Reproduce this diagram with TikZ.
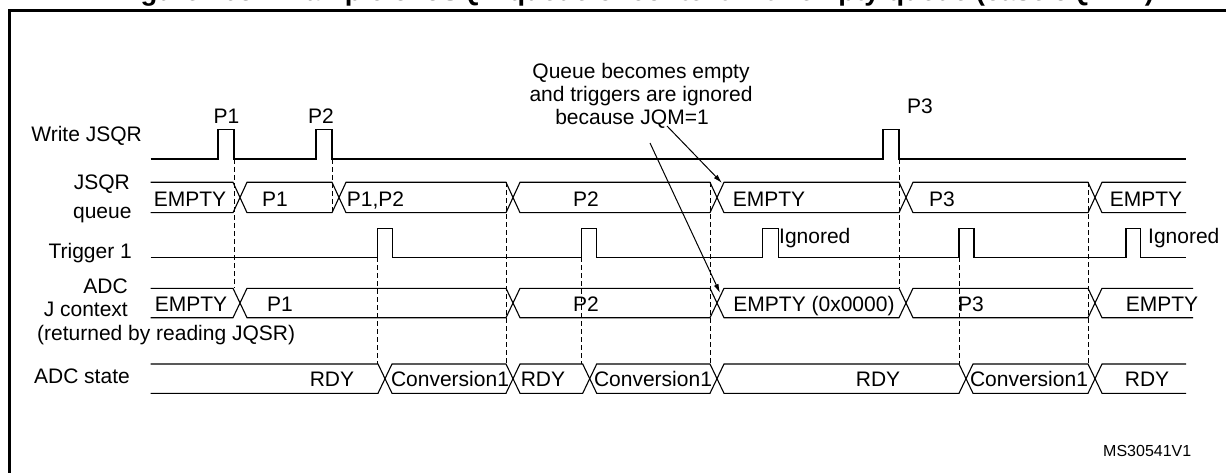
\documentclass[tikz,border=0pt]{standalone}
\usepackage{fontspec}
\setmainfont{Liberation Sans}
\usetikzlibrary{arrows.meta}
\newcommand\queuepath[2]{(150.7,#1) -- (233,#1) -- (247,#2) -- (332,#2) -- (346,#1) -- (506,#1) -- (520,#2) -- (710,#2) -- (724,#1) -- (899,#1) -- (913,#2) -- (1088,#2) -- (1102,#1) -- (1186,#1)}
\newcommand\jctxpath[2]{(150.7,#1) -- (233,#1) -- (247,#2) -- (506,#2) -- (520,#1) -- (710,#1) -- (724,#2) -- (899,#2) -- (913,#1) -- (1088,#1) -- (1102,#2) -- (1193,#2)}
\newcommand\statepath[2]{(150.7,#1) -- (378,#1) -- (392,#2) -- (506,#2) -- (520,#1) -- (582.7,#1) -- (596.7,#2) -- (710,#2) -- (724,#1) -- (959,#1) -- (973,#2) -- (1088,#2) -- (1102,#1) -- (1186,#1)}
\begin{document}
\begin{tikzpicture}[x=1pt,y=-1pt,
  sig/.style={line width=1.1pt, line join=miter},
  guide/.style={line width=1pt, dash pattern=on 5pt off 3pt},
  lbl/.style={inner sep=0pt, font=\fontsize{21}{25}\selectfont},
  note/.style={-{Latex[length=9pt,width=5pt]}, line width=1pt},
]
\useasboundingbox (0,0) rectangle (1226,473);
\fill[white] (0,0) rectangle (1226,473);
\begin{scope}
\clip (0,0) rectangle (1226,473);
% frame
\draw[line width=2.6pt] (9.7,490) -- (9.7,10.5) -- (1240,10.5);
% clipped title
\node[anchor=base west, inner sep=0pt, font=\bfseries\fontsize{27.5}{30}\selectfont] (title) at (116,0.2) {Figure 105. Example of JSQR queue of context with empty queue (case JQM=1)};
\end{scope}

% row labels
\node[lbl, anchor=base east] (lwrite) at (142,141.7) {Write JSQR};
\node[lbl, anchor=base east] (ljsqr) at (130,190) {JSQR};
\node[lbl, anchor=base east] (lqueue) at (131.7,218.3) {queue};
\node[lbl, anchor=base east] (ltrig) at (132,258.3) {Trigger 1};
\node[lbl, anchor=base east] (ladc) at (128,293.3) {ADC};
\node[lbl, anchor=base east] (ljc) at (128,316.7) {J context};
\node[lbl, anchor=base west] (lret) at (37,340) {(returned by reading JQSR)};
\node[lbl, anchor=base east] (lstate) at (130,383.3) {ADC state};

% dashed guides
\foreach \x/\ya/\yb in {234/159/288.3, 332/159/212.7, 377.7/257.3/364, 506/182.3/364, 581.7/257.3/364, 710.5/182.3/364, 899/159/288.3, 959/257.3/364, 1088/182.3/364}
  \draw[guide] (\x,\ya) -- (\x,\yb);

% Write JSQR
\draw[sig] (150.7,159) -- (218,159) -- (218,129.3) -- (234,129.3) -- (234,159) -- (316,159) -- (316,129.3) -- (332,129.3) -- (332,159) -- (883,159) -- (883,129.3) -- (899,129.3) -- (899,159) -- (1186,159);
\node[lbl, anchor=base] (p1) at (226.5,123.3) {P1};
\node[lbl, anchor=base] (p2) at (321,123.3) {P2};
\node[lbl, anchor=base west] (p3) at (907,113.3) {P3};

% JSQR queue
\draw[sig] \queuepath{182.3}{212.7};
\draw[sig] \queuepath{212.7}{182.3};
\node[lbl, anchor=base] (q1) at (190,206.7) {EMPTY};
\node[lbl, anchor=base] (q2) at (275,206.7) {P1};
\node[lbl, anchor=base] (q3) at (375.5,206.7) {P1,P2};
\node[lbl, anchor=base] (q4) at (586,206.7) {P2};
\node[lbl, anchor=base] (q5) at (769,206.7) {EMPTY};
\node[lbl, anchor=base] (q6) at (942,206.7) {P3};
\node[lbl, anchor=base] (q7) at (1146,206.7) {EMPTY};

% Trigger 1
\draw[sig] (150.7,257.3) -- (377.7,257.3) -- (377.7,228.3) -- (392.7,228.3) -- (392.7,257.3)
  -- (581.7,257.3) -- (581.7,228.3) -- (596.7,228.3) -- (596.7,257.3)
  -- (762.7,257.3) -- (762.7,228.3) -- (778.3,228.3) -- (778.3,257.3)
  -- (959,257.3) -- (959,228.3) -- (974,228.3) -- (974,257.3)
  -- (1126,257.3) -- (1126,228.3) -- (1140.7,228.3) -- (1140.7,257.3) -- (1186,257.3);
\node[lbl, anchor=base west] (ig1) at (779,243.3) {Ignored};
\node[lbl, anchor=base west] (ig2) at (1148,243.3) {Ignored};

% ADC J context
\draw[sig] \jctxpath{288.3}{317.7};
\draw[sig] \jctxpath{317.7}{288.3};
\node[lbl, anchor=base] (j1) at (191,311) {EMPTY};
\node[lbl, anchor=base] (j2) at (280,311) {P1};
\node[lbl, anchor=base] (j3) at (586,311) {P2};
\node[lbl, anchor=base] (j4) at (814,311) {EMPTY (0x0000)};
\node[lbl, anchor=base] (j5) at (971,311) {P3};
\node[lbl, anchor=base] (j6) at (1162,311) {EMPTY};

% ADC state
\draw[sig] \statepath{364}{393.3};
\draw[sig] \statepath{393.3}{364};
\node[lbl, anchor=base] (s1) at (332,386.7) {RDY};
\node[lbl, anchor=base] (s2) at (450,386.7) {Conversion1};
\node[lbl, anchor=base] (s3) at (543,386.7) {RDY};
\node[lbl, anchor=base] (s4) at (653,386.7) {Conversion1};
\node[lbl, anchor=base] (s5) at (878,386.7) {RDY};
\node[lbl, anchor=base] (s6) at (1029,386.7) {Conversion1};
\node[lbl, anchor=base] (s7) at (1147,386.7) {RDY};

% annotation
\node[lbl, anchor=base] (n1) at (641,78.3) {Queue becomes empty};
\node[lbl, anchor=base] (n2) at (641,101.7) {and triggers are ignored};
\node[lbl, anchor=base] (n3) at (632,125) {because JQM=1};
\coordinate (a1s) at (667,126);
\coordinate (a1e) at (722,183);
\coordinate (a2s) at (650,143);
\coordinate (a2e) at (720,293);
\draw[note] (a1s) -- (a1e);
\draw[note] (a2s) -- (a2e);

\node[anchor=base west, inner sep=0pt, font=\fontsize{16}{19}\selectfont] (ms) at (1103,456.7) {MS30541V1};
\end{tikzpicture}
\end{document}
